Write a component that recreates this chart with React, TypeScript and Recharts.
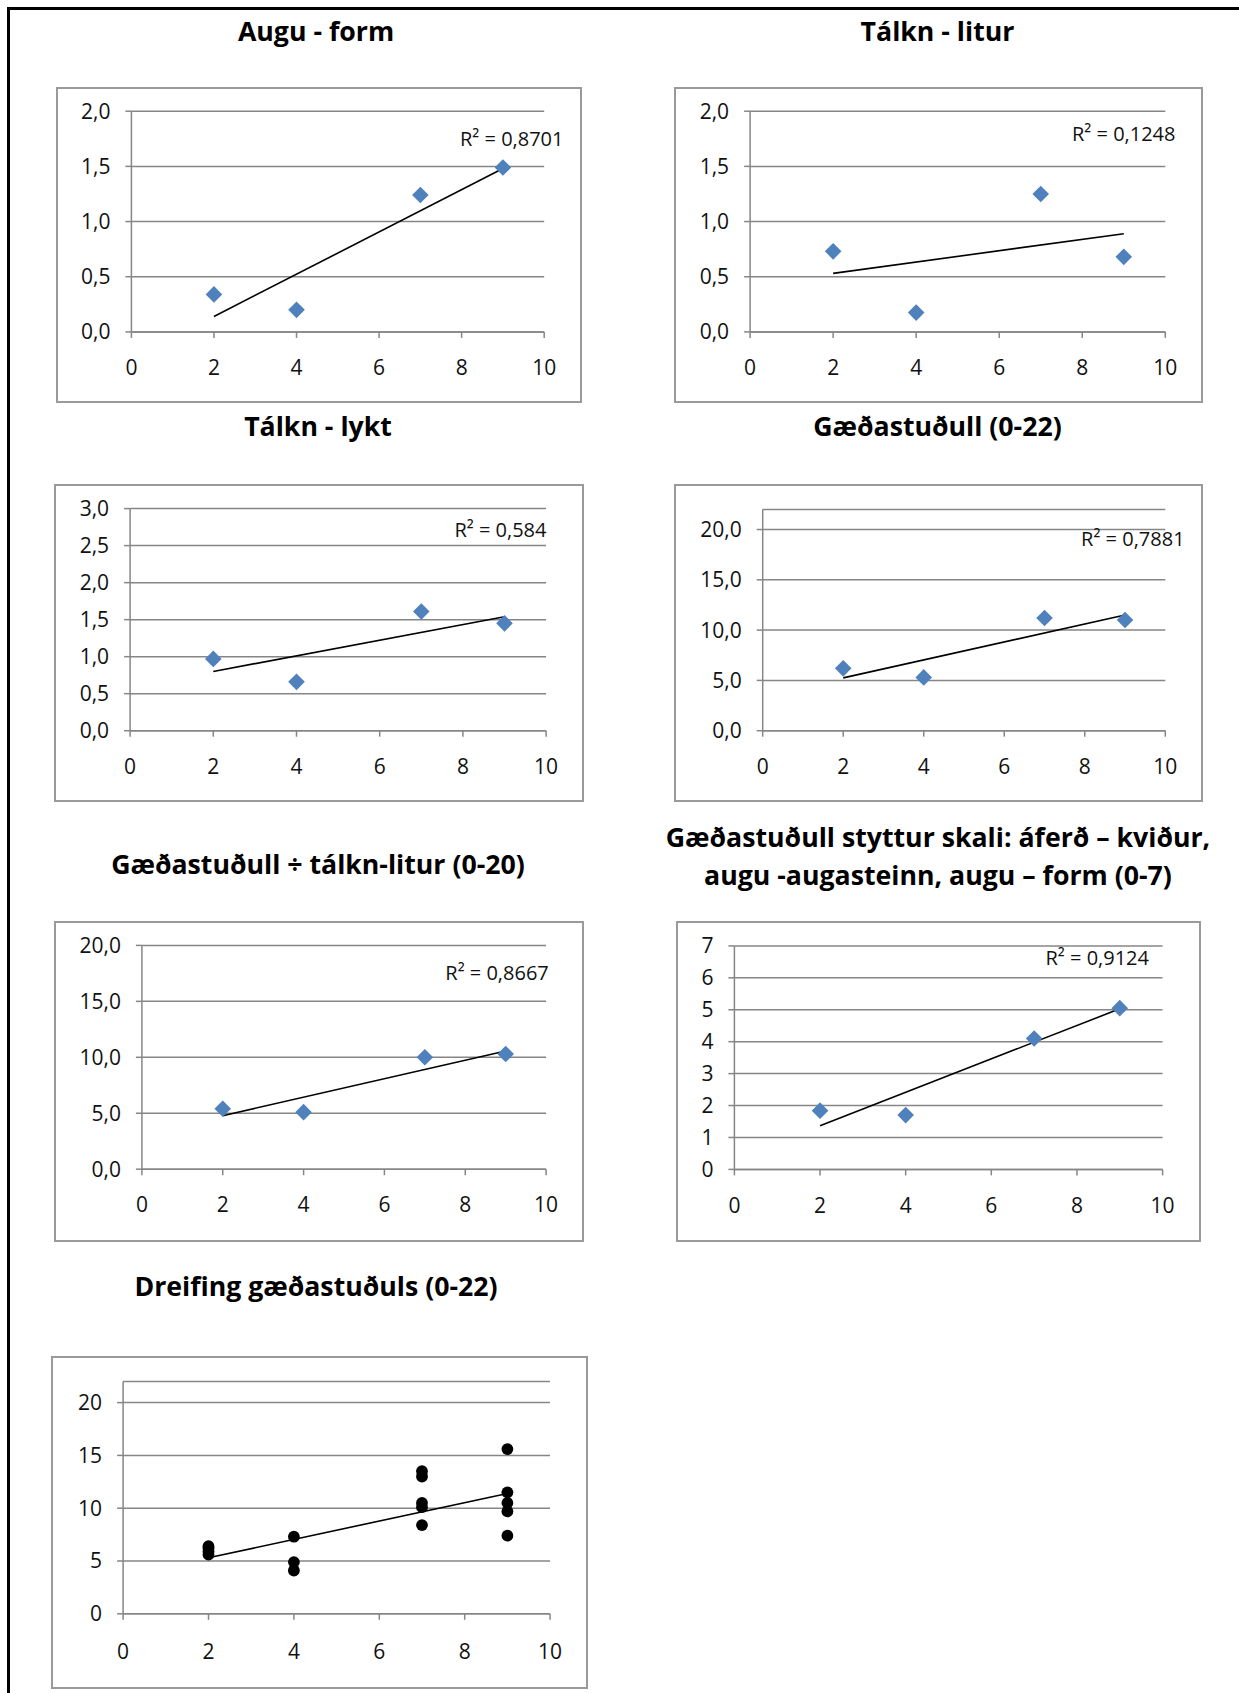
import React from 'react';
import { ScatterChart, Scatter, XAxis, YAxis, CartesianGrid, ReferenceLine } from 'recharts';

// ---------- data ----------
const xValues = [2, 4, 7, 9];
const auguForm = [0.34, 0.2, 1.24, 1.49];
const talknLitur = [0.73, 0.175, 1.25, 0.68];
const talknLykt = [0.97, 0.66, 1.61, 1.45];
const gaedastudull = [6.2, 5.3, 11.2, 11.0];
const gaedaAnLitur = [5.4, 5.1, 10.0, 10.3];
const stytturSkali = [1.84, 1.7, 4.1, 5.05];

const dreifingX = [2, 2, 2, 2, 4, 4, 4, 7, 7, 7, 7, 7, 9, 9, 9, 9, 9];
const dreifingY = [6.4, 6.2, 5.9, 5.6, 7.3, 4.9, 4.1, 13.5, 13.0, 10.5, 10.1, 8.4, 15.6, 11.5, 10.5, 9.7, 7.4];

// trendline end points (x = 2 and x = 9)
const trendX = [2, 9];
const trendAuguForm = [0.14, 1.48];
const trendTalknLitur = [0.53, 0.89];
const trendTalknLykt = [0.8, 1.54];
const trendGaedastudull = [5.25, 11.5];
const trendGaedaAnLitur = [4.78, 10.57];
const trendStytturSkali = [1.37, 5.03];
const trendDreifing = [5.3, 11.4];

const xTicks = [0, 2, 4, 6, 8, 10];
const yTicks2 = [0, 0.5, 1, 1.5, 2];
const yTicks3 = [0, 0.5, 1, 1.5, 2, 2.5, 3];
const yTicks20 = [0, 5, 10, 15, 20];
const yTicks7 = [0, 1, 2, 3, 4, 5, 6, 7];

const titles = [
  'Augu - form',
  'Tálkn - litur',
  'Tálkn - lykt',
  'Gæðastuðull (0-22)',
  'Gæðastuðull ÷ tálkn-litur (0-20)',
  'Gæðastuðull styttur skali: áferð – kviður,',
  'augu -augasteinn, augu – form (0-7)',
  'Dreifing gæðastuðuls (0-22)',
];
const r2Labels = ['R² = 0,8701', 'R² = 0,1248', 'R² = 0,584', 'R² = 0,7881', 'R² = 0,8667', 'R² = 0,9124'];

// ---------- style ----------
const FONT = "'Open Sans', sans-serif";
const AXIS = '#868686';
const BOX = '#9a9a9a';
const BLUE = '#4F81BD';
const TICK_FS = 21;

const toPoints = (xs: number[], ys: number[]) => xs.map((x, i) => ({ x, y: ys[i] }));

const Diamond = (props: any) => {
  const { cx, cy } = props;
  if (cx == null || cy == null) return <g />;
  const r = 8.3;
  return <path d={`M${cx},${cy - r}L${cx + r},${cy}L${cx},${cy + r}L${cx - r},${cy}Z`} fill={BLUE} />;
};
const Dot = (props: any) => {
  const { cx, cy } = props;
  if (cx == null || cy == null) return <g />;
  return <circle cx={cx} cy={cy} r={5.9} fill="#000" />;
};

type PanelProps = {
  box: [number, number, number, number];
  plot: [number, number, number, number];
  yMax: number;
  yTicks: number[];
  decimals: number;
  points: { x: number; y: number }[];
  trend: number[];
  shape: any;
  xLabelGap?: number;
};

function Panel({ box, plot, yMax, yTicks, decimals, points, trend, shape, xLabelGap = 36 }: PanelProps) {
  const [L, T, R, B] = box;
  const [x0, x1, yTop, y0] = plot;
  const W = R - L;
  const H = B - T;
  const wY = 50;
  const hX = 50;
  const margin = { left: x0 - L - wY, top: yTop - T, right: R - x1, bottom: B - y0 - hX };
  const fmt = (v: number) => v.toFixed(decimals).replace('.', ',');
  const tickStyle = { fontSize: TICK_FS, fill: '#111', fontFamily: FONT };
  return (
    <>
      <div
        style={{
          position: 'absolute',
          left: L - 1,
          top: T - 1,
          width: W,
          height: H,
          border: `2px solid ${BOX}`,
          boxSizing: 'border-box',
        }}
      />
      <div style={{ position: 'absolute', left: L, top: T, width: W, height: H }}>
        <ScatterChart width={W} height={H} margin={margin}>
          <CartesianGrid vertical={false} stroke={AXIS} strokeWidth={1.5} />
          <XAxis
            type="number"
            dataKey="x"
            domain={[0, 10]}
            ticks={xTicks}
            interval={0}
            height={hX}
            tickSize={6}
            tickMargin={xLabelGap - 13.8}
            tick={tickStyle}
            axisLine={{ stroke: AXIS, strokeWidth: 1.5 }}
            tickLine={{ stroke: AXIS, strokeWidth: 1.5 }}
          />
          <YAxis
            type="number"
            dataKey="y"
            domain={[0, yMax]}
            ticks={yTicks}
            interval={0}
            width={wY}
            tickSize={6}
            tickMargin={15}
            tick={tickStyle}
            tickFormatter={fmt}
            axisLine={{ stroke: AXIS, strokeWidth: 1.5 }}
            tickLine={{ stroke: AXIS, strokeWidth: 1.5 }}
          />
          <Scatter data={points} shape={shape} isAnimationActive={false} />
          <ReferenceLine
            segment={[
              { x: trendX[0], y: trend[0] },
              { x: trendX[1], y: trend[1] },
            ]}
            stroke="#000"
            strokeWidth={1.6}
            ifOverflow="visible"
          />
        </ScatterChart>
      </div>
    </>
  );
}

const Title = ({ text, cx, cy }: { text: string; cx: number; cy: number }) => (
  <div
    style={{
      position: 'absolute',
      left: cx - 320,
      width: 640,
      top: cy - 19,
      lineHeight: '38px',
      textAlign: 'center',
      fontFamily: FONT,
      fontWeight: 700,
      fontSize: 26.7,
      color: '#000',
      whiteSpace: 'nowrap',
    }}
  >
    {text}
  </div>
);

const R2 = ({ text, right, cy }: { text: string; right: number; cy: number }) => (
  <div
    style={{
      position: 'absolute',
      left: right - 220,
      width: 220,
      top: cy - 13,
      lineHeight: '26px',
      textAlign: 'right',
      fontFamily: FONT,
      fontSize: 20,
      color: '#111',
      whiteSpace: 'nowrap',
    }}
  >
    {text}
  </div>
);

export default function App() {
  return (
    <div
      style={{
        position: 'absolute',
        left: 0,
        top: 0,
        width: 1239,
        height: 1693,
        background: '#fff',
        overflow: 'hidden',
      }}
    >
      <div
        style={{
          position: 'absolute',
          left: 7,
          top: 7,
          width: 1300,
          height: 1750,
          borderTop: '3px solid #000',
          borderLeft: '3px solid #000',
        }}
      />

      <Title text={titles[0]} cx={316} cy={30.5} />
      <Title text={titles[1]} cx={937.5} cy={30.5} />
      <Title text={titles[2]} cx={318} cy={426} />
      <Title text={titles[3]} cx={937.5} cy={426} />
      <Title text={titles[4]} cx={318} cy={864} />
      <Title text={titles[5]} cx={938} cy={836.5} />
      <Title text={titles[6]} cx={938} cy={875} />
      <Title text={titles[7]} cx={316} cy={1285.5} />

      <Panel
        box={[57.3, 88.3, 583.2, 404.3]}
        plot={[131.7, 544.5, 111.5, 332.2]}
        yMax={2}
        yTicks={yTicks2}
        decimals={1}
        points={toPoints(xValues, auguForm)}
        trend={trendAuguForm}
        shape={Diamond}
      />
      <Panel
        box={[675.4, 88.3, 1204, 404.3]}
        plot={[750.5, 1165.7, 111.5, 332.2]}
        yMax={2}
        yTicks={yTicks2}
        decimals={1}
        points={toPoints(xValues, talknLitur)}
        trend={trendTalknLitur}
        shape={Diamond}
      />
      <Panel
        box={[55.4, 485, 585.2, 803.3]}
        plot={[130.5, 546.5, 508.6, 730.7]}
        yMax={3}
        yTicks={yTicks3}
        decimals={1}
        points={toPoints(xValues, talknLykt)}
        trend={trendTalknLykt}
        shape={Diamond}
      />
      <Panel
        box={[675.4, 485, 1204, 803.3]}
        plot={[763.1, 1165.7, 509.4, 730.7]}
        yMax={22}
        yTicks={yTicks20}
        decimals={1}
        points={toPoints(xValues, gaedastudull)}
        trend={trendGaedastudull}
        shape={Diamond}
      />
      <Panel
        box={[55.4, 922.3, 585.2, 1242.7]}
        plot={[142.3, 546.5, 945.7, 1169.5]}
        yMax={20}
        yTicks={yTicks20}
        decimals={1}
        points={toPoints(xValues, gaedaAnLitur)}
        trend={trendGaedaAnLitur}
        shape={Diamond}
      />
      <Panel
        box={[677.3, 922.3, 1202, 1242.7]}
        plot={[734.7, 1162.9, 946.2, 1169.7]}
        yMax={7}
        yTicks={yTicks7}
        decimals={0}
        points={toPoints(xValues, stytturSkali)}
        trend={trendStytturSkali}
        shape={Diamond}
      />
      <Panel
        box={[51.5, 1356.7, 589.2, 1690.5]}
        plot={[122.6, 549.6, 1381.2, 1613.5]}
        yMax={22}
        yTicks={yTicks20}
        decimals={0}
        points={toPoints(dreifingX, dreifingY)}
        trend={trendDreifing}
        shape={Dot}
        xLabelGap={38}
      />

      <R2 text={r2Labels[0]} right={563.5} cy={139.3} />
      <R2 text={r2Labels[1]} right={1175.5} cy={133.5} />
      <R2 text={r2Labels[2]} right={546.5} cy={530} />
      <R2 text={r2Labels[3]} right={1184.6} cy={539.4} />
      <R2 text={r2Labels[4]} right={548.8} cy={973} />
      <R2 text={r2Labels[5]} right={1149} cy={958} />
    </div>
  );
}
